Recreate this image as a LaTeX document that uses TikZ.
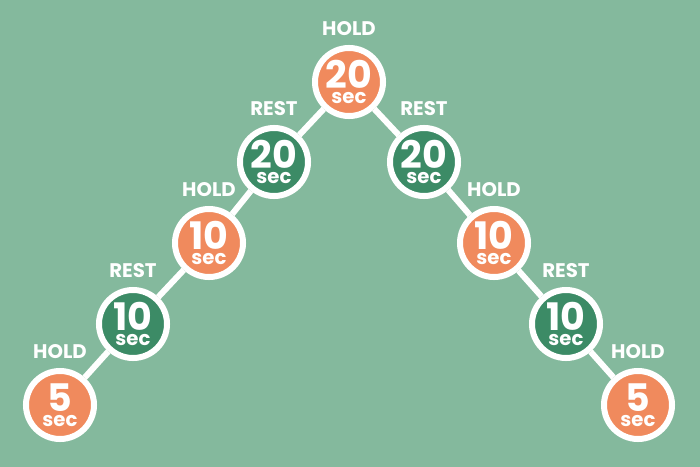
\documentclass[tikz,border=0pt]{standalone}
\usepackage{fontspec}
\setmainfont{Poppins}
\usetikzlibrary{positioning}
\definecolor{bggreen}{HTML}{84B99D}
\definecolor{holdorange}{HTML}{F08A5D}
\definecolor{restgreen}{HTML}{3C8B66}
\newcommand{\dur}[1]{{\fontsize{27}{27}\selectfont #1}\\[-1.5pt]{\fontsize{14}{14}\selectfont sec}}

\begin{document}
\begin{tikzpicture}[
        x=0.025cm, y=-0.025cm,
        node distance=0.22cm,
        stage/.style={circle, draw=white, line width=0.15cm, minimum size=1.7cm, inner sep=0pt, align=center, text=white, font=\bfseries},
        hold/.style={stage, fill=holdorange},
        rest/.style={stage, fill=restgreen},
        tag/.style={text=white, inner sep=0pt, font=\bfseries\fontsize{14}{14}\selectfont},
        link/.style={draw=white, line width=0.15cm}
    ]

    % Background
    \fill[bggreen] (0,0) rectangle (700,467);
    \useasboundingbox (0,0) rectangle (700,467);

    % Circles
    \node[hold] (h20) at (349,82) {\dur{20}};
    \node[rest] (r20l) at (274,162) {\dur{20}};
    \node[hold] (h10l) at (209,243) {\dur{10}};
    \node[rest] (r10l) at (133,324) {\dur{10}};
    \node[hold] (h5l) at (60,405) {\dur{5}};
    \node[rest] (r20r) at (424,162) {\dur{20}};
    \node[hold] (h10r) at (494,243) {\dur{10}};
    \node[rest] (r10r) at (566,324) {\dur{10}};
    \node[hold] (h5r) at (638,405) {\dur{5}};

    % Labels
    \node[tag, above=of h20] (th20) {HOLD};
    \node[tag, above=of r20l] (tr20l) {REST};
    \node[tag, above=of h10l] (th10l) {HOLD};
    \node[tag, above=of r10l] (tr10l) {REST};
    \node[tag, above=of h5l] (th5l) {HOLD};
    \node[tag, above=of r20r] (tr20r) {REST};
    \node[tag, above=of h10r] (th10r) {HOLD};
    \node[tag, above=of r10r] (tr10r) {REST};
    \node[tag, above=of h5r] (th5r) {HOLD};

    % Connections
    \draw[link] (h20) -- (r20l) -- (h10l) -- (r10l) -- (h5l);
    \draw[link] (h20) -- (r20r) -- (h10r) -- (r10r) -- (h5r);

\end{tikzpicture}
\end{document}
